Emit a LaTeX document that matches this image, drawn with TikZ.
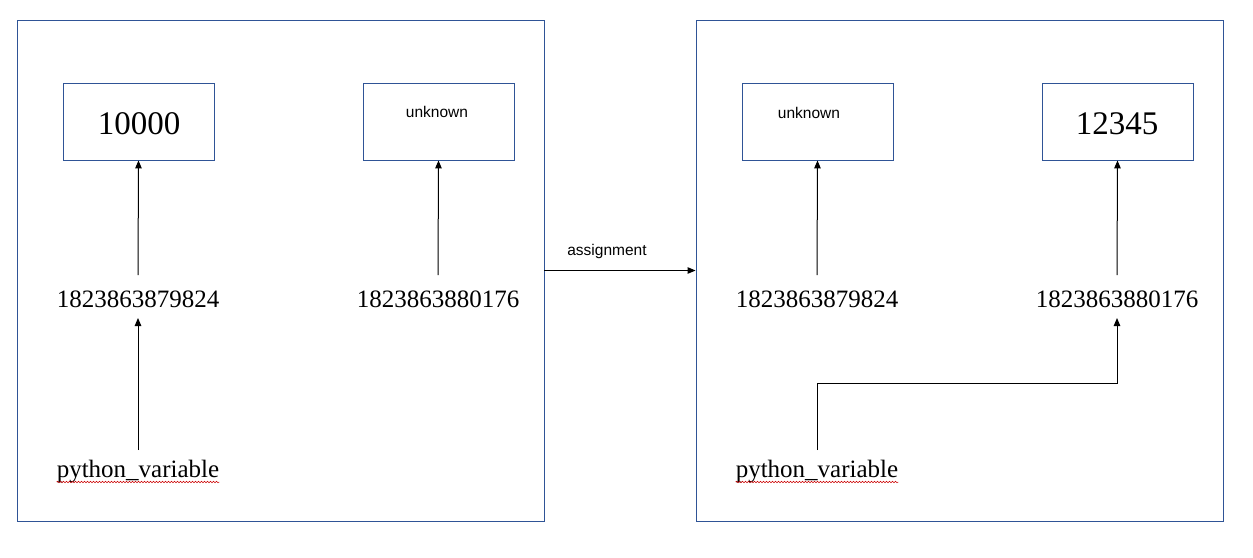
\documentclass[tikz,border=0pt]{standalone}
\usepackage{fontspec}
\setmainfont{Liberation Serif}
\setsansfont{Liberation Sans}
\usetikzlibrary{arrows.meta,decorations.pathmorphing}
\definecolor{framecol}{RGB}{47,84,150}
\begin{document}
\begin{tikzpicture}[x=1pt,y=-1pt,
  frame/.style={draw=framecol,line width=0.9pt,minimum width=527pt,minimum height=501pt,inner sep=0pt},
  valbox/.style={draw=framecol,line width=0.9pt,minimum width=151pt,minimum height=77pt,inner sep=0pt},
  bignum/.style={font=\fontsize{33}{36}\selectfont,anchor=base,inner sep=0pt},
  addr/.style={font=\fontsize{25}{28}\selectfont,anchor=base,inner sep=0pt},
  small/.style={font=\sffamily\fontsize{15.5}{18}\selectfont,anchor=base,inner sep=0pt},
  arr/.style={line width=1pt,-{Triangle[length=8pt,width=6.5pt]}},
  squig/.style={red!80!black,line width=0.5pt,decorate,decoration={snake,amplitude=0.8pt,segment length=3pt}}
]
\useasboundingbox (0,0) rectangle (1253,557);
% frames
\node[frame] (lf) at (280.5,270.5) {};
\node[frame] (rf) at (959.5,270.5) {};
% value boxes
\node[valbox] (b1) at (138.5,121.5) {};
\node[valbox] (b2) at (438.5,121.5) {};
\node[valbox] (b3) at (817.5,121.5) {};
\node[valbox] (b4) at (1117.5,121.5) {};
\node[bignum] (t1) at (139,134) {10000};
\node[small] (t2) at (437,117) {unknown};
\node[small] (t3) at (809,118) {unknown};
\node[bignum] (t4) at (1117,134) {12345};
% addresses
\node[addr] (a1) at (138,307) {1823863879824};
\node[addr] (a2) at (438,307) {1823863880176};
\node[addr] (a3) at (817,307) {1823863879824};
\node[addr] (a4) at (1117,307) {1823863880176};
% variables
\node[addr] (v1) at (138,477) {python\_variable};
\node[addr] (v2) at (817,477) {python\_variable};
\draw[squig] ([yshift=-5pt]v1.base west) -- ([yshift=-5pt]v1.base east);
\draw[squig] ([yshift=-5pt]v2.base west) -- ([yshift=-5pt]v2.base east);
% arrows to boxes
\draw[arr] ([yshift=32pt]a1.base) -- (b1.south);
\draw[arr] ([yshift=32pt]a2.base) -- (b2.south);
\draw[arr] ([yshift=32pt]a3.base) -- (b3.south);
\draw[arr] ([yshift=32pt]a4.base) -- (b4.south);
% variable arrows
\draw[arr] ([yshift=27pt]v1.base) -- ([yshift=-11pt]a1.base);
\coordinate (elb) at (817,383);
\draw[arr] ([yshift=27pt]v2.base) -- (elb) -| ([yshift=-11pt]a4.base);
% assignment
\draw[arr] (lf.east) -- node[small,above=15pt,anchor=base,xshift=-13pt] (asg) {assignment} (rf.west);
\end{tikzpicture}
\end{document}
